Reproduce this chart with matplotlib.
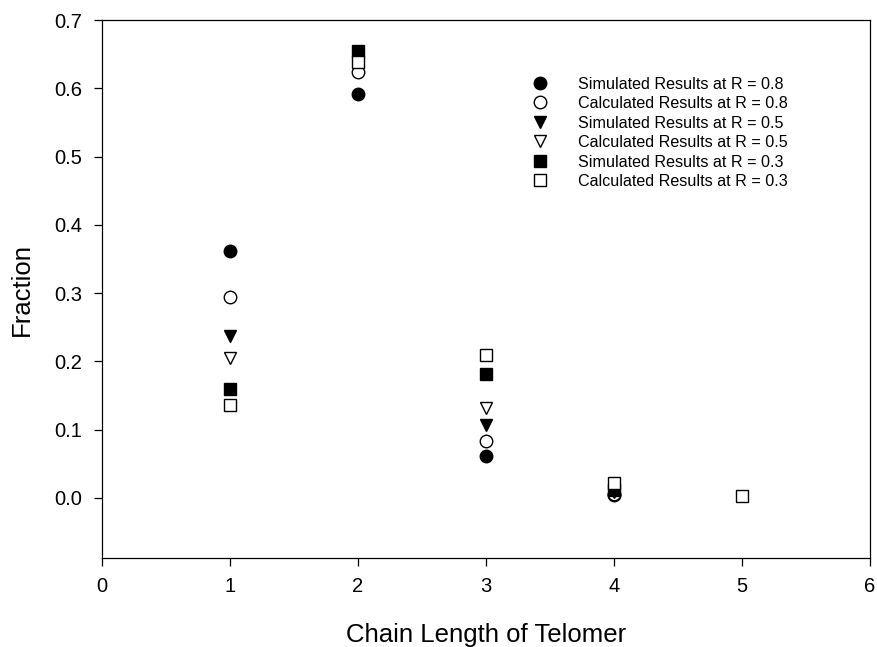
import matplotlib.pyplot as plt

plt.rcParams.update(
    {
        "font.family": ["Liberation Sans", "DejaVu Sans"],
        "font.size": 14,
        "xtick.direction": "out",
        "ytick.direction": "out",
    }
)

# chain length -> fraction
sim_08_x = [1, 2, 3, 4]
sim_08_y = [0.361, 0.591, 0.062, 0.004]
calc_08_x = [1, 2, 3, 4]
calc_08_y = [0.295, 0.624, 0.083, 0.006]
sim_05_x = [1, 2, 3, 4]
sim_05_y = [0.237, 0.645, 0.107, 0.008]
calc_05_x = [1, 2, 3, 4]
calc_05_y = [0.205, 0.640, 0.132, 0.010]
sim_03_x = [1, 2, 3, 4]
sim_03_y = [0.160, 0.654, 0.181, 0.012]
calc_03_x = [1, 2, 3, 4, 5]
calc_03_y = [0.136, 0.639, 0.209, 0.022, 0.003]

series = [
    (sim_08_x, sim_08_y, "o", True, "Simulated Results at R = 0.8"),
    (calc_08_x, calc_08_y, "o", False, "Calculated Results at R = 0.8"),
    (sim_05_x, sim_05_y, "v", True, "Simulated Results at R = 0.5"),
    (calc_05_x, calc_05_y, "v", False, "Calculated Results at R = 0.5"),
    (sim_03_x, sim_03_y, "s", True, "Simulated Results at R = 0.3"),
    (calc_03_x, calc_03_y, "s", False, "Calculated Results at R = 0.3"),
]

fig = plt.figure(figsize=(8.77, 6.47), dpi=100)
ax = fig.add_axes([0.1163, 0.1376, 0.8757, 0.8314])

for xs, ys, mk, filled, label in series:
    ms = 9 if mk != "s" else 8.5
    ax.plot(
        xs,
        ys,
        linestyle="none",
        marker=mk,
        markersize=ms,
        markerfacecolor="black" if filled else "white",
        markeredgecolor="black",
        markeredgewidth=1.0,
        label=label,
    )

ax.set_xlim(0, 6)
ax.set_ylim(-0.088, 0.7)
ax.set_xticks(range(0, 7))
ax.set_yticks([0.0, 0.1, 0.2, 0.3, 0.4, 0.5, 0.6, 0.7])
ax.set_yticklabels([f"{v:.1f}" for v in ax.get_yticks()])
ax.tick_params(length=6, width=0.9, labelsize=14.5, pad=8)
for sp in ax.spines.values():
    sp.set_linewidth(0.9)

ax.set_xlabel("Chain Length of Telomer", fontsize=18.5, labelpad=19)
ax.set_ylabel("Fraction", fontsize=18.5, labelpad=15)

ax.legend(
    loc="upper left",
    bbox_to_anchor=(0.541, 0.922),
    frameon=False,
    fontsize=11.6,
    handlelength=1.0,
    handletextpad=1.85,
    labelspacing=0.28,
    numpoints=1,
)

fig.savefig("out.png", dpi=100)
